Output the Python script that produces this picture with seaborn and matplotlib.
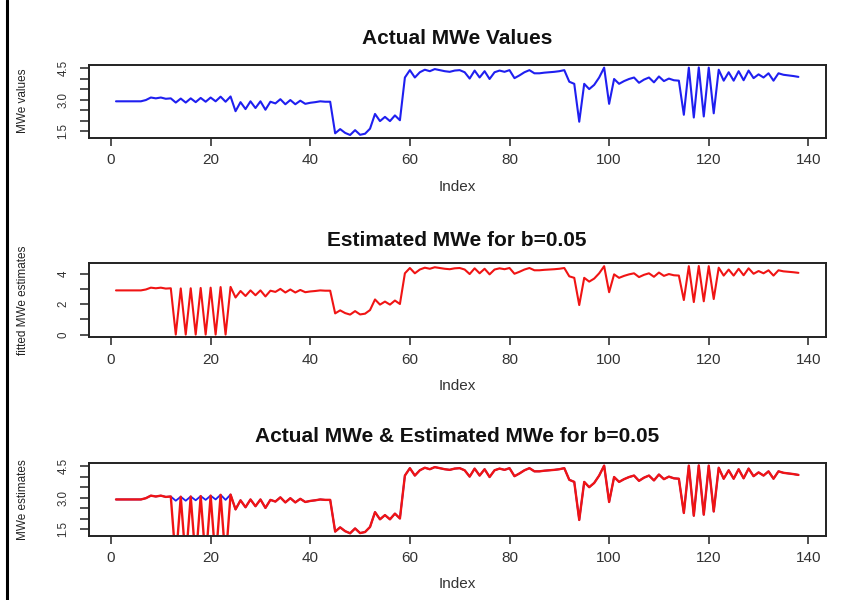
import matplotlib
matplotlib.use("Agg")
import matplotlib.pyplot as plt
from matplotlib.lines import Line2D
import pandas as pd
import seaborn as sns

# Observed MWe values, one per index (1..138)
actual_mwe = [
    2.92, 2.92, 2.92, 2.92, 2.92, 2.92, 2.98, 3.10, 3.06, 3.10,
    3.04, 3.06, 2.86, 3.05, 2.86, 3.06, 2.88, 3.08, 2.90, 3.10,
    2.92, 3.14, 2.90, 3.15, 2.45, 2.88, 2.55, 2.92, 2.60, 2.92,
    2.52, 2.90, 2.82, 3.02, 2.78, 2.98, 2.78, 2.95, 2.80, 2.85,
    2.88, 2.92, 2.90, 2.90, 1.40, 1.60, 1.42, 1.32, 1.55, 1.33,
    1.38, 1.62, 2.32, 1.98, 2.18, 1.98, 2.25, 2.02, 4.05, 4.40,
    4.05, 4.30, 4.42, 4.35, 4.45, 4.40, 4.35, 4.32, 4.38, 4.40,
    4.30, 4.00, 4.38, 4.05, 4.35, 3.98, 4.30, 4.38, 4.32, 4.40,
    4.02, 4.15, 4.30, 4.40, 4.25, 4.25, 4.28, 4.30, 4.32, 4.35,
    4.40, 3.85, 3.75, 1.95, 3.75, 3.50, 3.70, 4.05, 4.52, 2.80,
    3.98, 3.75, 3.88, 3.98, 4.05, 3.80, 3.95, 4.05, 3.82, 4.10,
    3.88, 4.00, 3.92, 3.90, 2.28, 4.52, 2.15, 4.53, 2.20, 4.52,
    2.35, 4.42, 3.90, 4.30, 3.90, 4.35, 3.92, 4.38, 4.02, 4.20,
    4.05, 4.25, 3.90, 4.25, 4.18, 4.15, 4.12, 4.08,
]

# Fitted MWe estimates for b = 0.05, one per index (1..138)
estimated_mwe = [
    2.92, 2.92, 2.92, 2.92, 2.92, 2.92, 2.98, 3.10, 3.06, 3.10,
    3.04, 3.06, 0.00, 3.05, 0.00, 3.06, 0.00, 3.08, 0.00, 3.10,
    0.00, 3.14, 0.00, 3.15, 2.45, 2.88, 2.55, 2.92, 2.60, 2.92,
    2.52, 2.90, 2.82, 3.02, 2.78, 2.98, 2.78, 2.95, 2.80, 2.85,
    2.88, 2.92, 2.90, 2.90, 1.40, 1.60, 1.42, 1.32, 1.55, 1.33,
    1.38, 1.62, 2.32, 1.98, 2.18, 1.98, 2.25, 2.02, 4.05, 4.40,
    4.05, 4.30, 4.42, 4.35, 4.45, 4.40, 4.35, 4.32, 4.38, 4.40,
    4.30, 4.00, 4.38, 4.05, 4.35, 3.98, 4.30, 4.38, 4.32, 4.40,
    4.02, 4.15, 4.30, 4.40, 4.25, 4.25, 4.28, 4.30, 4.32, 4.35,
    4.40, 3.85, 3.75, 1.95, 3.75, 3.50, 3.70, 4.05, 4.52, 2.80,
    3.98, 3.75, 3.88, 3.98, 4.05, 3.80, 3.95, 4.05, 3.82, 4.10,
    3.88, 4.00, 3.92, 3.90, 2.28, 4.52, 2.15, 4.53, 2.20, 4.52,
    2.35, 4.42, 3.90, 4.30, 3.90, 4.35, 3.92, 4.38, 4.02, 4.20,
    4.05, 4.25, 3.90, 4.25, 4.18, 4.15, 4.12, 4.08,
]

panel_titles = [
    "Actual MWe Values",
    "Estimated MWe for b=0.05",
    "Actual MWe & Estimated MWe for b=0.05",
]
panel_ylabels = ["MWe values", "fitted MWe estimates", "MWe estimates"]
x_ticks = [0, 20, 40, 60, 80, 100, 120, 140]
y_ticks_actual = [1.5, 2.0, 2.5, 3.0, 3.5, 4.0, 4.5]
y_labels_actual = ["1.5", "", "", "3.0", "", "", "4.5"]
y_ticks_fitted = [0, 1, 2, 3, 4]
y_labels_fitted = ["0", "", "2", "", "4"]

BLUE = "#1f1ff0"
RED = "#f01414"
INK = "#222222"

sns.set_style("ticks")
plt.rcParams["font.family"] = ["Liberation Sans", "DejaVu Sans"]

df = pd.DataFrame({
    "Index": range(1, len(actual_mwe) + 1),
    "actual": actual_mwe,
    "estimated": estimated_mwe,
})

W, H = 856, 600
fig = plt.figure(figsize=(W / 100, H / 100), dpi=100)
fig.patch.set_facecolor("white")


def r_range(values):
    lo, hi = min(values), max(values)
    pad = 0.04 * (hi - lo)
    return lo - pad, hi + pad


def make_axes(top, bottom):
    return fig.add_axes([88.7 / W, 1 - bottom / H, 737 / W, (bottom - top) / H])


def style_axes(ax, yticks, ylabels, ylim):
    ax.set_xlim(r_range(df["Index"]))
    ax.set_ylim(ylim)
    ax.set_xticks(x_ticks)
    ax.set_xticklabels([str(t) for t in x_ticks])
    ax.set_yticks(yticks)
    ax.set_yticklabels(ylabels)
    ax.set_xlabel("")
    ax.set_ylabel("")
    for s in ax.spines.values():
        s.set_visible(True)
        s.set_linewidth(1.4)
        s.set_color(INK)
    ax.tick_params(axis="x", length=6, width=1.1, color=INK, pad=5,
                   labelsize=11, labelcolor="#333333")
    ax.tick_params(axis="y", length=6.5, width=1.1, color=INK, pad=7.5,
                   labelsize=8.3, labelcolor="#333333")
    for lab in ax.get_yticklabels():
        lab.set_rotation(90)
        lab.set_va("center")
        lab.set_ha("right")
    ax.grid(False)


boxes = [(64.7, 137.7), (263.3, 337.3), (462.7, 536.0)]
title_y = [38, 240, 437]
xlabel_y = [186.7, 385.5, 583.5]
ylabel_centers = [101, 300, 500]

# Panel 1: observed values
ax1 = make_axes(*boxes[0])
sns.lineplot(data=df, x="Index", y="actual", ax=ax1, color=BLUE,
             linewidth=1.5, estimator=None)
style_axes(ax1, y_ticks_actual, y_labels_actual, r_range(df["actual"]))

# Panel 2: fitted estimates
ax2 = make_axes(*boxes[1])
sns.lineplot(data=df, x="Index", y="estimated", ax=ax2, color=RED,
             linewidth=1.5, estimator=None)
style_axes(ax2, y_ticks_fitted, y_labels_fitted, r_range(df["estimated"]))

# Panel 3: observed values with the estimates drawn over them
ax3 = make_axes(*boxes[2])
sns.lineplot(data=df, x="Index", y="actual", ax=ax3, color=BLUE,
             linewidth=1.3, estimator=None)
sns.lineplot(data=df, x="Index", y="estimated", ax=ax3, color=RED,
             linewidth=1.7, estimator=None)
style_axes(ax3, y_ticks_actual, y_labels_actual, r_range(df["actual"]))

cx = (88.7 + 825.7) / 2 / W
for i in range(3):
    fig.text(cx, 1 - title_y[i] / H, panel_titles[i], ha="center", va="center",
             fontsize=15, fontweight="bold", color="#111111")
    fig.text(cx, 1 - xlabel_y[i] / H, "Index", ha="center", va="center",
             fontsize=11, color="#333333")
    fig.text(23 / W, 1 - ylabel_centers[i] / H, panel_ylabels[i], ha="center",
             va="center", rotation=90, fontsize=8.5, color="#222222")

# Frame line along the left edge of the page
fig.add_artist(Line2D([6.5 / W, 6.5 / W], [0, 1], color="black", lw=2.2,
                      transform=fig.transFigure))

fig.savefig("out.png", dpi=100, facecolor="white")
